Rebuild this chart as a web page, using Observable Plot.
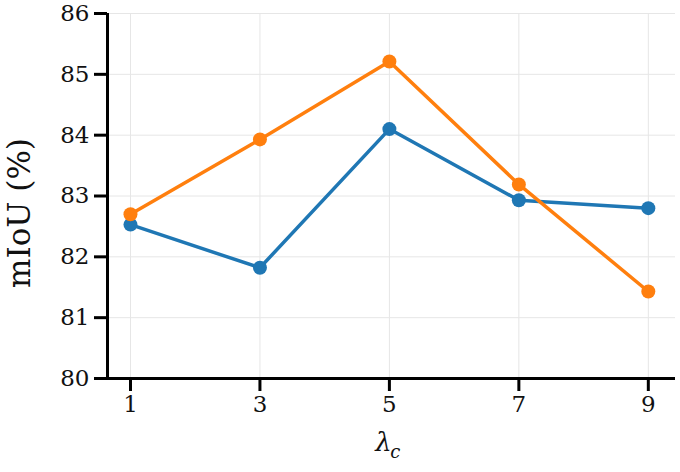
<!DOCTYPE html>
<html><head><meta charset="utf-8">
<script src="https://cdn.jsdelivr.net/npm/d3@7"></script>
<script src="https://cdn.jsdelivr.net/npm/@observablehq/plot@0.6"></script>
<style>body{margin:0;background:#fff}</style>
</head><body><div id="chart"></div>
<script>
const lambdas = [1, 3, 5, 7, 9];
const seriesA = [82.53, 81.82, 84.10, 82.93, 82.80];
const seriesB = [82.70, 83.93, 85.21, 83.19, 81.43];
const yTicks = [80, 81, 82, 83, 84, 85, 86];
const yLabel = "mIoU (%)";

const data = [
  ...lambdas.map((x, i) => ({x, y: seriesA[i], s: "A"})),
  ...lambdas.map((x, i) => ({x, y: seriesB[i], s: "B"}))
];
const font = "DejaVu Serif";
const chart = Plot.plot({
  width: 680, height: 472,
  marginLeft: 107, marginRight: 5, marginTop: 13, marginBottom: 94,
  style: {fontFamily: font, background: "#fff"},
  x: {domain: [0.645, 9.42], ticks: lambdas},
  y: {domain: [80, 86], ticks: yTicks},
  color: {domain: ["A", "B"], range: ["#1f77b4", "#ff7f0e"]},
  marks: [
    Plot.gridX(lambdas, {stroke: "#e6e6e6", strokeOpacity: 1, strokeWidth: 1}),
    Plot.gridY(yTicks, {stroke: "#e6e6e6", strokeOpacity: 1, strokeWidth: 1}),
    Plot.line(data, {x: "x", y: "y", z: "s", stroke: "s", strokeWidth: 3.5}),
    Plot.dot(data, {x: "x", y: "y", fill: "s", r: 7}),
    Plot.axisX(lambdas, {tickSize: 13, strokeWidth: 3, fontSize: 23, tickPadding: 4, label: null, stroke: "#000", color: "#111"}),
    Plot.axisY(yTicks, {tickSize: 13, strokeWidth: 3, fontSize: 23, tickPadding: 5, tickFormat: "d", label: null, stroke: "#000", color: "#111"}),
    Plot.ruleY([80], {stroke: "#000", strokeWidth: 3}),
    Plot.ruleX([0.645], {stroke: "#000", strokeWidth: 3}),
    Plot.text([yLabel], {frameAnchor: "left", textAnchor: "middle", dx: -87, dy: 17, rotate: -90, fontSize: 31, fill: "#111", fontFamily: font}),
    Plot.text(["λ"], {x: 5, frameAnchor: "bottom", dy: 72, dx: -6, fontSize: 26, fontStyle: "italic", fill: "#111", fontFamily: font}),
    Plot.text(["c"], {x: 5, frameAnchor: "bottom", dy: 79, dx: 6, fontSize: 18, fontStyle: "italic", fill: "#111", fontFamily: font})
  ]
});
document.getElementById("chart").append(chart);
</script>
</body></html>
